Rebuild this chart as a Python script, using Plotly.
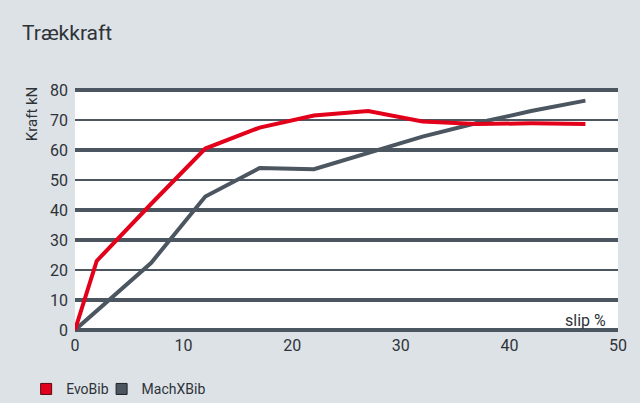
import plotly.graph_objects as go

# ---- data ----
slip = [0, 2, 7, 12, 17, 22, 27, 32, 37, 42, 47]
evobib = [0, 23, 42, 60.5, 67.5, 71.5, 73, 69.5, 68.7, 68.9, 68.7]
slip_mx = [0, 7, 12, 17, 22, 27, 32, 37, 42, 47]
machx = [0, 22.3, 44.5, 54, 53.6, 59, 64.5, 69, 73, 76.5]
y_ticks = [0, 10, 20, 30, 40, 50, 60, 70, 80]
x_ticks = [0, 10, 20, 30, 40, 50]
grid_thick = [0, 10, 30, 40, 60, 80]
grid_thin = [20, 50, 70]

RED = "#e2001a"
GREY = "#4b5661"
BG = "#dde2e7"
TXT = "#2e3338"
FONT = "Roboto, sans-serif"

fig = go.Figure()
for g in grid_thick:
    fig.add_trace(go.Scatter(x=[0, 50], y=[g, g], mode="lines", line=dict(color=GREY, width=4),
                             showlegend=False, hoverinfo="skip"))
for g in grid_thin:
    fig.add_trace(go.Scatter(x=[0, 50], y=[g, g], mode="lines", line=dict(color=GREY, width=2),
                             showlegend=False, hoverinfo="skip"))

fig.add_trace(go.Scatter(x=slip_mx, y=machx, mode="lines", line=dict(color=GREY, width=4),
                         showlegend=False, name="MachXBib"))
fig.add_trace(go.Scatter(x=slip, y=evobib, mode="lines", line=dict(color=RED, width=4),
                         showlegend=False, name="EvoBib"))
# legend entries
fig.add_trace(go.Scatter(x=[None], y=[None], mode="markers", name="EvoBib", legend="legend",
                         marker=dict(symbol="square", size=11, color=RED, line=dict(color="#5a0a10", width=1))))
fig.add_trace(go.Scatter(x=[None], y=[None], mode="markers", name="MachXBib", legend="legend2",
                         marker=dict(symbol="square", size=11, color=GREY, line=dict(color="#1e2226", width=1))))

leg_common = dict(orientation="h", xanchor="left", y=-0.235, yanchor="middle",
                  bgcolor="rgba(0,0,0,0)", font=dict(size=14))

fig.update_layout(
    width=640, height=403,
    paper_bgcolor=BG, plot_bgcolor="white",
    margin=dict(l=75, r=22, t=88, b=71, autoexpand=False),
    font=dict(family=FONT, color=TXT, size=15),
    title=dict(text="Trækkraft", xref="container", yref="container", x=22/640, xanchor="left",
               y=1-33/403, yanchor="middle", font=dict(size=21, color=TXT, family=FONT)),
    xaxis=dict(range=[0, 50], tickvals=x_ticks, showgrid=False, zeroline=False,
               showline=False, ticks="", ticklabelstandoff=2, tickfont=dict(size=16)),
    yaxis=dict(range=[-0.7, 80.7], tickvals=y_ticks, showgrid=False, zeroline=False, showline=False,
               ticks="", tickfont=dict(size=16), ticklabelstandoff=6),
    legend=dict(x=-0.09, **leg_common),
    legend2=dict(x=0.049, **leg_common),
    annotations=[
        dict(text="Kraft kN", xref="paper", yref="y", x=-0.079, y=72, textangle=-90,
             xanchor="center", yanchor="middle",
             showarrow=False, font=dict(size=15, color=TXT)),
        dict(text="slip %", xref="paper", yref="y", x=1, y=3, xanchor="right", yanchor="middle",
             xshift=-10, showarrow=False, font=dict(size=16, color=TXT)),
    ],
)

fig.write_html("out.html", config={"displayModeBar": False},
               post_script="document.body.style.margin='0';")
